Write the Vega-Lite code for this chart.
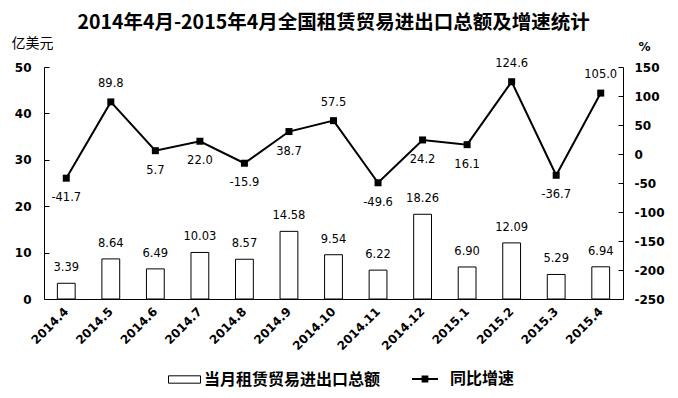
{
  "$schema": "https://vega.github.io/schema/vega-lite/v6.json",
  "width": 579,
  "height": 232,
  "autosize": {"type": "none"},
  "padding": {"left": 44, "top": 67, "right": 55, "bottom": 99},
  "background": "white",
  "title": {
    "text": "2014年4月-2015年4月全国租赁贸易进出口总额及增速统计",
    "font": "Noto Sans CJK SC",
    "fontSize": 19.5,
    "fontWeight": "bold",
    "color": "black",
    "anchor": "middle",
    "frame": "group",
    "offset": 3
  },
  "config": {
    "locale": {"number": {"decimal": ".", "thousands": ",", "grouping": [3], "currency": ["", ""], "minus": "-"}},
    "view": {"stroke": null},
    "axis": {
      "grid": false,
      "domainColor": "black",
      "tickColor": "black",
      "labelColor": "black",
      "labelFont": "DejaVu Sans",
      "labelFontWeight": "bold",
      "labelFontSize": 12,
      "titleColor": "black"
    }
  },
  "data": {
    "values": [
      {"month": "2014.4", "amount": 3.39, "growth": -41.7},
      {"month": "2014.5", "amount": 8.64, "growth": 89.8},
      {"month": "2014.6", "amount": 6.49, "growth": 5.7},
      {"month": "2014.7", "amount": 10.03, "growth": 22.0},
      {"month": "2014.8", "amount": 8.57, "growth": -15.9},
      {"month": "2014.9", "amount": 14.58, "growth": 38.7},
      {"month": "2014.10", "amount": 9.54, "growth": 57.5},
      {"month": "2014.11", "amount": 6.22, "growth": -49.6},
      {"month": "2014.12", "amount": 18.26, "growth": 24.2},
      {"month": "2015.1", "amount": 6.90, "growth": 16.1},
      {"month": "2015.2", "amount": 12.09, "growth": 124.6},
      {"month": "2015.3", "amount": 5.29, "growth": -36.7},
      {"month": "2015.4", "amount": 6.94, "growth": 105.0}
    ]
  },
  "encoding": {
    "x": {
      "field": "month",
      "type": "ordinal",
      "sort": null,
      "scale": {"paddingInner": 0.6, "paddingOuter": 0.3},
      "axis": {
        "title": null,
        "ticks": false,
        "labelAngle": -45,
        "labelAlign": "right",
        "labelBaseline": "middle",
        "labelPadding": 10,
        "labelFontSize": 12
      }
    }
  },
  "layer": [
    {
      "encoding": {
        "y": {
          "field": "amount",
          "type": "quantitative",
          "scale": {"domain": [0, 50]},
          "axis": {
            "values": [0, 10, 20, 30, 40, 50],
            "tickSize": -5,
            "labelPadding": 18,
            "title": "亿美元",
            "titleFont": "Noto Sans CJK SC",
            "titleFontSize": 14,
            "titleFontWeight": "normal",
            "titleAngle": 0,
            "titleAlign": "center",
            "titleBaseline": "middle",
            "titleX": -12,
            "titleY": -24
          }
        }
      },
      "layer": [
        {
          "mark": {"type": "bar", "stroke": "black", "strokeWidth": 1},
          "encoding": {
            "fill": {
              "datum": "当月租赁贸易进出口总额",
              "scale": {"range": ["white"]},
              "legend": {
                "orient": "none",
                "legendX": 124,
                "legendY": 296,
                "title": null,
                "padding": 0,
                "symbolType": "M-1,-0.23H1V0.23H-1Z",
                "symbolSize": 1024,
                "symbolStrokeColor": "black",
                "symbolStrokeWidth": 1,
                "labelFont": "Noto Sans CJK SC",
                "labelFontSize": 16,
                "labelFontWeight": "bold",
                "labelColor": "black",
                "labelOffset": 3,
                "labelLimit": 400
              }
            }
          }
        },
        {
          "mark": {"type": "text", "font": "DejaVu Sans", "fontSize": 11.5, "baseline": "middle", "dy": -15, "color": "black"},
          "encoding": {"text": {"field": "amount", "type": "quantitative", "format": ".2f"}}
        }
      ]
    },
    {
      "encoding": {
        "y": {
          "field": "growth",
          "type": "quantitative",
          "scale": {"domain": [-250, 150]},
          "axis": {
            "orient": "right",
            "values": [-250, -200, -150, -100, -50, 0, 50, 100, 150],
            "tickSize": -5,
            "labelPadding": 16,
            "title": "%",
            "titleFont": "DejaVu Sans",
            "titleFontSize": 12,
            "titleFontWeight": "bold",
            "titleAngle": 0,
            "titleAlign": "center",
            "titleBaseline": "middle",
            "titleX": 21,
            "titleY": -21
          }
        }
      },
      "layer": [
        {
          "mark": {"type": "line", "color": "black", "strokeWidth": 2}
        },
        {
          "mark": {"type": "point", "shape": "square", "filled": true, "color": "black", "size": 49, "opacity": 1}
        },
        {
          "mark": {"type": "point", "filled": true, "color": "black", "opacity": 0, "strokeWidth": 0},
          "encoding": {
            "shape": {
              "datum": "同比增速",
              "scale": {"range": ["M-1,-0.08H1V0.08H-1Z M-0.26,-0.26H0.26V0.26H-0.26Z"]},
              "legend": {
                "orient": "none",
                "legendX": 368,
                "legendY": 299,
                "title": null,
                "padding": 0,
                "symbolSize": 676,
                "symbolFillColor": "black",
                "symbolOpacity": 1,
                "symbolStrokeWidth": 0,
                "labelFont": "Noto Sans CJK SC",
                "labelFontSize": 16,
                "labelFontWeight": "bold",
                "labelColor": "black",
                "labelOffset": 12
              }
            }
          }
        },
        {
          "transform": [{"filter": {"field": "month", "oneOf": ["2014.5", "2014.10", "2015.2", "2015.4"]}}],
          "mark": {"type": "text", "font": "DejaVu Sans", "fontSize": 11.5, "baseline": "middle", "dy": -18, "color": "black"},
          "encoding": {"text": {"field": "growth", "type": "quantitative", "format": ".1f"}}
        },
        {
          "transform": [{"filter": {"not": {"field": "month", "oneOf": ["2014.5", "2014.10", "2015.2", "2015.4"]}}}],
          "mark": {"type": "text", "font": "DejaVu Sans", "fontSize": 11.5, "baseline": "middle", "dy": 20, "color": "black"},
          "encoding": {"text": {"field": "growth", "type": "quantitative", "format": ".1f"}}
        }
      ]
    }
  ],
  "resolve": {"scale": {"y": "independent"}}
}
